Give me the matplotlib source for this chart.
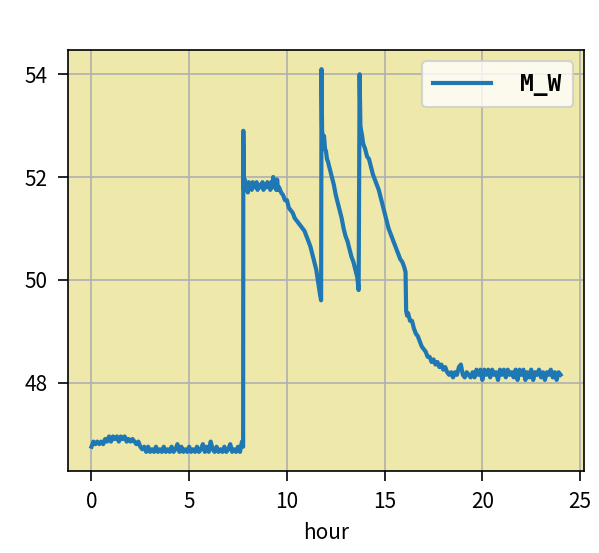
import numpy as np
import matplotlib
matplotlib.use("Agg")
import matplotlib.pyplot as plt

plt.rcParams['font.family'] = ['Noto Sans CJK JP', 'DejaVu Sans']
plt.rcParams['xtick.major.size'] = 4.8
plt.rcParams['ytick.major.size'] = 4.8
plt.rcParams['xtick.major.pad'] = 5.0
plt.rcParams['ytick.major.pad'] = 5.0

# === Data ===
# night: regular samples, 0.0 h .. 7.7 h every 0.1 h
night_start, night_step = 0.0, 0.1
night_mw = [46.75, 46.85, 46.8, 46.85, 46.8, 46.85, 46.8, 46.9,
            46.85, 46.95, 46.85, 46.95, 46.9, 46.95, 46.85, 46.95,
            46.9, 46.95, 46.85, 46.9, 46.85, 46.9, 46.85, 46.8,
            46.85, 46.75, 46.7, 46.75, 46.65, 46.75, 46.65, 46.7,
            46.65, 46.75, 46.65, 46.7, 46.65, 46.75, 46.65, 46.7,
            46.65, 46.75, 46.65, 46.7, 46.8, 46.65, 46.75, 46.65,
            46.7, 46.65, 46.75, 46.65, 46.7, 46.65, 46.75, 46.65,
            46.7, 46.8, 46.65, 46.75, 46.65, 46.85, 46.7, 46.65,
            46.75, 46.65, 46.7, 46.65, 46.75, 46.65, 46.7, 46.8,
            46.65, 46.7, 46.65, 46.75, 46.65, 46.85]

# morning step-up
jump_hour = [7.76, 7.77, 7.80]
jump_mw = [46.75, 52.9, 51.75]

# plateau: 7.85 h .. every 0.05 h
plateau_start, plateau_step = 7.85, 0.05
plateau_mw = [51.95, 51.75, 51.85, 51.7, 51.9, 51.8, 51.85, 51.75, 51.9, 51.8,
              51.85, 51.8, 51.9, 51.75, 51.85, 51.8, 51.85, 51.8, 51.9, 51.75,
              51.8, 51.85, 51.8, 51.9, 51.8, 51.85, 51.75, 51.9, 51.8, 52.0,
              51.8, 51.85, 51.75, 51.95, 51.75, 51.8]

# decline and the two spikes
fall_hour = [9.7, 9.8, 9.9, 10.0, 10.1, 10.2, 10.3, 10.4, 10.5, 10.6, 10.7,
             10.8, 10.9, 11.0, 11.1, 11.2, 11.3, 11.4, 11.5, 11.6, 11.7, 11.75,
             11.77, 11.8, 11.85, 11.9, 11.95, 12.0, 12.05, 12.1, 12.2, 12.3,
             12.4, 12.5, 12.6, 12.7, 12.8, 12.9, 13.0, 13.1, 13.2, 13.3, 13.4,
             13.5, 13.6, 13.67,
             13.72, 13.76, 13.8, 13.85, 13.9, 13.95, 14.0, 14.1, 14.2, 14.3,
             14.4, 14.5, 14.6, 14.7, 14.8, 14.9, 15.0, 15.1, 15.2, 15.3, 15.4,
             15.5, 15.6, 15.7, 15.8, 15.9, 16.0, 16.07,
             16.1, 16.15, 16.2, 16.3, 16.4, 16.5, 16.6, 16.7, 16.8, 16.9, 17.0,
             17.1, 17.2, 17.3, 17.4, 17.5, 17.6, 17.7, 17.8, 17.9, 18.0, 18.1,
             18.2]
fall_mw = [51.7, 51.65, 51.55, 51.55, 51.4, 51.35, 51.3, 51.2, 51.15, 51.1, 51.05,
           51.0, 50.95, 50.85, 50.75, 50.65, 50.5, 50.35, 50.2, 49.95, 49.7, 49.6,
           54.1, 52.9, 52.75, 52.8, 52.55, 52.5, 52.35, 52.3, 52.15, 52.0,
           51.85, 51.65, 51.5, 51.35, 51.2, 51.0, 50.85, 50.75, 50.6, 50.45, 50.35,
           50.2, 50.05, 49.8,
           54.0, 53.0, 52.9, 52.8, 52.65, 52.6, 52.55, 52.4, 52.35, 52.2,
           52.05, 51.95, 51.85, 51.75, 51.6, 51.45, 51.3, 51.15, 51.0, 50.9, 50.8,
           50.7, 50.6, 50.5, 50.4, 50.35, 50.25, 50.15,
           49.4, 49.3, 49.35, 49.2, 49.2, 49.05, 48.95, 48.9, 48.8, 48.7, 48.65,
           48.6, 48.5, 48.5, 48.4, 48.45, 48.35, 48.4, 48.3, 48.35, 48.25, 48.3,
           48.2]

# evening tail: 18.3 h .. every 0.1 h
tail_start, tail_step = 18.3, 0.1
tail_mw = [48.15, 48.2, 48.1, 48.2, 48.15, 48.3, 48.35, 48.15, 48.1, 48.2,
           48.15, 48.1, 48.2, 48.1, 48.25, 48.15, 48.25, 48.05, 48.25, 48.15,
           48.25, 48.1, 48.25, 48.15, 48.2, 48.05, 48.25, 48.15, 48.25, 48.1,
           48.25, 48.15, 48.2, 48.1, 48.25, 48.05, 48.25, 48.15, 48.25, 48.05,
           48.2, 48.1, 48.25, 48.05, 48.2, 48.15, 48.25, 48.1, 48.2, 48.05,
           48.2, 48.15, 48.25, 48.1, 48.2, 48.05, 48.2, 48.15]

# === Assemble series ===
hour = np.concatenate([
    night_start + night_step * np.arange(len(night_mw)),
    jump_hour,
    plateau_start + plateau_step * np.arange(len(plateau_mw)),
    fall_hour,
    tail_start + tail_step * np.arange(len(tail_mw)),
])
m_w = np.concatenate([night_mw, jump_mw, plateau_mw, fall_mw, tail_mw])

# === Plot ===
fig = plt.figure(figsize=(599 / 150, 553 / 150), dpi=150)
ax = fig.add_axes([68 / 599, 82 / 553, 516 / 599, 421 / 553])
ax.set_facecolor('palegoldenrod')

ax.plot(hour, m_w, color='#1f77b4', lw=2.0, label='M_W')

ax.set_xticks([0, 5, 10, 15, 20, 25])
ax.set_yticks([48, 50, 52, 54])
ax.set_xlabel('hour')
ax.grid(True)
ax.legend(loc='upper right', handlelength=2.5, handletextpad=1.27, borderpad=0.5,
          prop={'family': 'DejaVu Sans Mono', 'weight': 'bold', 'size': 11})

fig.savefig('out.png', dpi=150)
